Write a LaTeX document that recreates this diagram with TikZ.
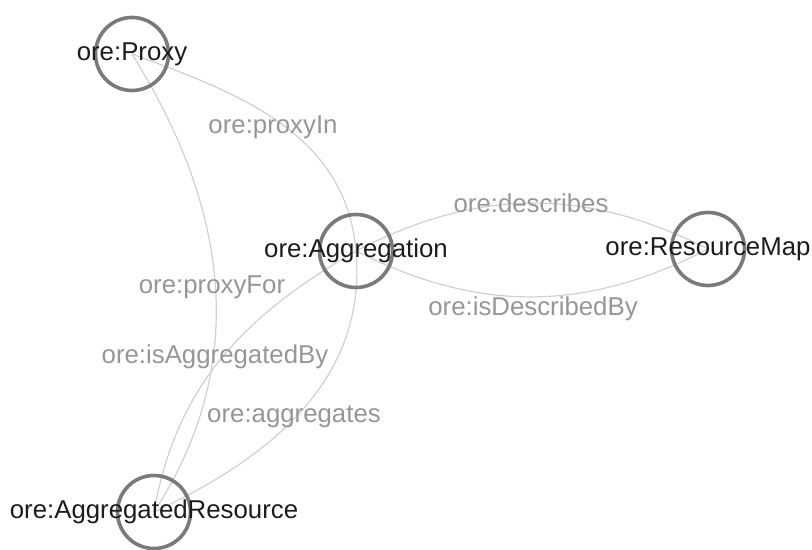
\documentclass[tikz,border=0pt]{standalone}
\usepackage{fontspec}
\setmainfont{Liberation Sans}
\usetikzlibrary{backgrounds}
\definecolor{ringgray}{RGB}{122,122,122}
\definecolor{linkgray}{RGB}{208,208,208}
\definecolor{propgray}{RGB}{150,150,150}
\definecolor{namegray}{RGB}{28,28,28}
\tikzset{
  classnode/.style = {shape=circle, draw=ringgray, line width=1.8pt,
                      minimum size=36.5pt, inner sep=0pt},
  classname/.style = {font=\fontsize{12.9}{15}\selectfont,
                      text=namegray, inner sep=0pt},
  proplabel/.style = {font=\fontsize{12.9}{15}\selectfont,
                      text=propgray, inner sep=0pt},
  link/.style      = {draw=linkgray, line width=0.6pt}
}
\begin{document}
\begin{tikzpicture}[x=0.5pt, y=0.5pt]
  \useasboundingbox (0,0) rectangle (812,550);

  \node [classnode] (proxy)  at (132,496) {};
  \node [classnode] (aggr)   at (356,299) {};
  \node [classnode] (resmap) at (708,301) {};
  \node [classnode] (aggres) at (154,38)  {};

  \node [classname] (proxytxt)  at (proxy)  {ore:Proxy};
  \node [classname] (aggrtxt)   at (aggr)   {ore:Aggregation};
  \node [classname] (resmaptxt) at (resmap) {ore:ResourceMap};
  \node [classname] (aggrestxt) at (aggres) {ore:AggregatedResource};

  \begin{scope}[on background layer]
    \draw [link] (proxy.center) to [out=-20, in=95] (aggr.center)
      node [proplabel] (l-proxyin) at (273,423) {ore:proxyIn};
    \draw [link] (proxy.center) to [out=-58, in=57] (aggres.center)
      node [proplabel] (l-proxyfor) at (212,263) {ore:proxyFor};
    \draw [link] (aggres.center) to [out=80, in=-150] (aggr.center)
      node [proplabel] (l-isaggrby) at (215,193) {ore:isAggregatedBy};
    \draw [link] (aggr.center) to [out=-85, in=25] (aggres.center)
      node [proplabel] (l-aggregates) at (294,133) {ore:aggregates};
    \draw [link] (aggr.center) to [bend left=27] (resmap.center)
      node [proplabel] (l-describes) at (531,347) {ore:describes};
    \draw [link] (aggr.center) to [bend right=27] (resmap.center)
      node [proplabel] (l-isdescrby) at (533,241) {ore:isDescribedBy};
  \end{scope}
\end{tikzpicture}
\end{document}
